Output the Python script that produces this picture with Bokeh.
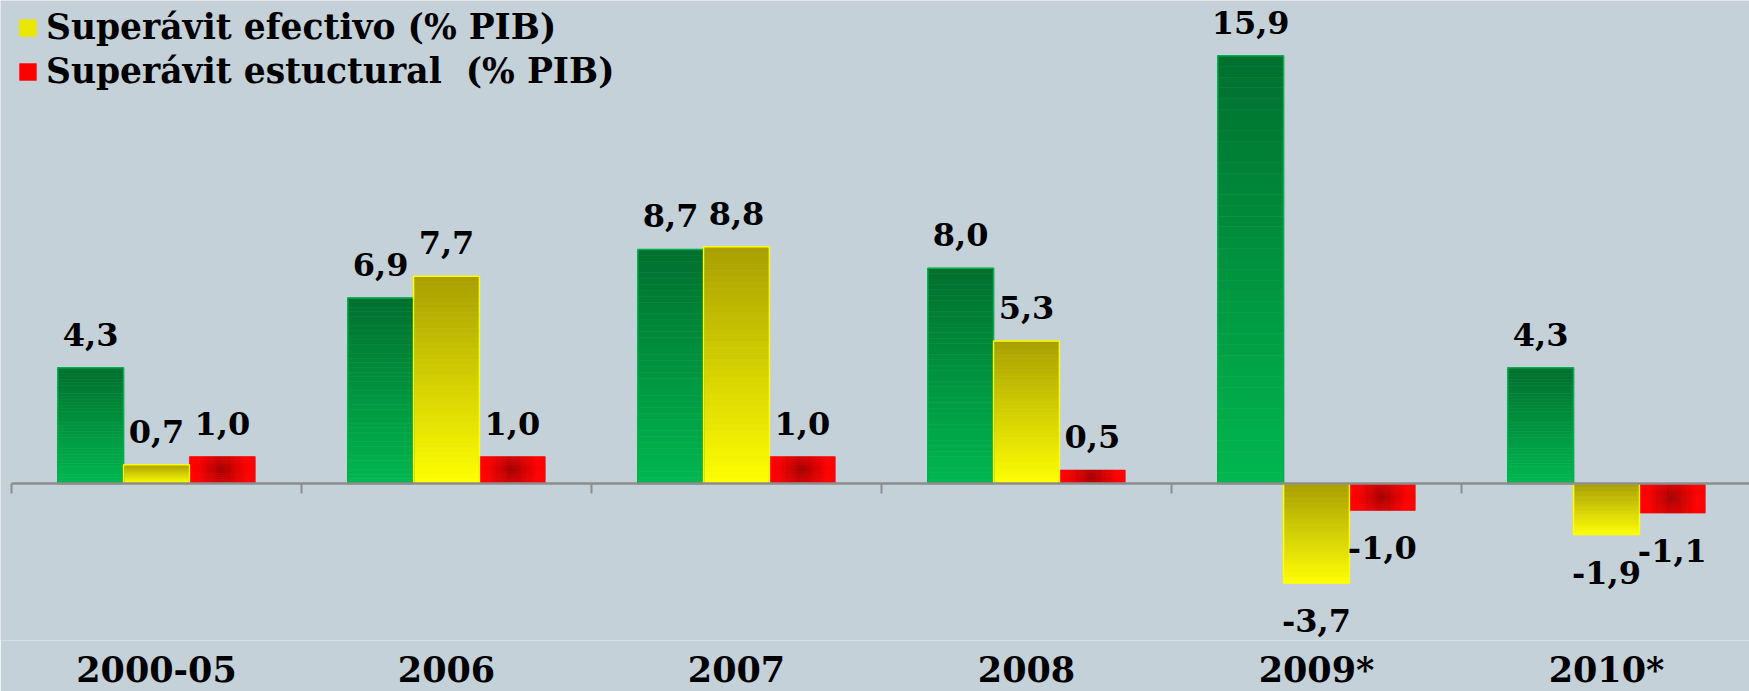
import math
from bokeh.plotting import figure
from bokeh.models import (ColumnDataSource, Range1d, LinearAxis, FixedTicker,
                          Legend, LegendItem, LabelSet)
from bokeh.core.properties import value
from bokeh.embed import file_html
from bokeh.resources import INLINE

# ---------------- data ----------------
categories = ["2000-05", "2006", "2007", "2008", "2009*", "2010*"]
green_vals = [4.3, 6.9, 8.7, 8.0, 15.9, 4.3]
yellow_vals = [0.7, 7.7, 8.8, 5.3, -3.7, -1.9]
red_vals = [1.0, 1.0, 1.0, 0.5, -1.0, -1.1]
legend_labels = ["Superávit efectivo (% PIB)", "Superávit estuctural  (% PIB)"]

# ---------------- layout / style ----------------
BG = "#C5D1D8"
LEFT_PAD_PX = 11
FRAME_W = 1749
FRAME_H = 640
CAT_PX = 290.0        # px per category
UNIT_PX = 26.9        # px per percentage point
ZERO_PX = 483.0       # zero line distance from frame top
BAR_W = 0.227
OFFS = [-0.227, 0.0, 0.227]
FONT = "DejaVu Serif"
LEGEND_H = 94         # approx. legend box height in px

GREEN_TOP, GREEN_BOT = "#006F2E", "#00B850"
YEL_TOP, YEL_BOT = "#A89F00", "#FFFF00"
RED_DARK, RED_EDGE = "#A00000", "#FF0000"


def hex2rgb(h):
    h = h.lstrip("#")
    return tuple(int(h[i:i + 2], 16) for i in (0, 2, 4))


def lerp(c0, c1, t):
    a, b = hex2rgb(c0), hex2rgb(c1)
    return "#%02x%02x%02x" % tuple(int(round(a[i] + (b[i] - a[i]) * t)) for i in range(3))


p = figure(frame_width=FRAME_W, frame_height=FRAME_H,
           x_range=Range1d(-LEFT_PAD_PX / CAT_PX, (FRAME_W - LEFT_PAD_PX) / CAT_PX),
           y_range=Range1d(-(FRAME_H - ZERO_PX) / UNIT_PX, ZERO_PX / UNIT_PX),
           x_axis_type=None, y_axis_type=None,
           output_backend="svg", toolbar_location=None,
           min_border_left=0, min_border_right=0, min_border_top=0,
           min_border_bottom=30)
p.background_fill_color = BG
p.border_fill_color = BG
p.outline_line_color = None


def linear_bars(vals, off, ctop, cbot, n=40):
    d = dict(left=[], right=[], top=[], bottom=[], c=[])
    for i, v in enumerate(vals):
        cx = i + 0.5 + off
        top, bot = max(v, 0.0), min(v, 0.0)
        step = (top - bot) / n
        for k in range(n):
            t = (k + 0.5) / n
            d["left"].append(cx - BAR_W / 2)
            d["right"].append(cx + BAR_W / 2)
            d["top"].append(top - k * step)
            d["bottom"].append(top - (k + 1) * step)
            d["c"].append(lerp(ctop, cbot, t))
    return ColumnDataSource(d)


def radial_bars(vals, off, nx=30):
    d = dict(left=[], right=[], top=[], bottom=[], c=[])
    for i, v in enumerate(vals):
        cx = i + 0.5 + off
        top, bot = max(v, 0.0), min(v, 0.0)
        cy = (top + bot) / 2
        h_px = (top - bot) * UNIT_PX
        ny = max(4, int(h_px / 2.0))
        dx = BAR_W / nx
        dy = (top - bot) / ny
        for a in range(nx):
            for b in range(ny):
                l = cx - BAR_W / 2 + a * dx
                tp = top - b * dy
                mx = (l + dx / 2 - cx) * CAT_PX
                my = (tp - dy / 2 - cy) * UNIT_PX
                r = math.hypot(mx, my)
                f = min(1.0, r / 26.0)
                d["left"].append(l)
                d["right"].append(l + dx)
                d["top"].append(tp)
                d["bottom"].append(tp - dy)
                d["c"].append(lerp(RED_DARK, RED_EDGE, f ** 0.8))
    return ColumnDataSource(d)


g_src = linear_bars(green_vals, OFFS[0], GREEN_TOP, GREEN_BOT)
y_src = linear_bars(yellow_vals, OFFS[1], YEL_TOP, YEL_BOT)
r_src = radial_bars(red_vals, OFFS[2])

g_r = p.quad(left="left", right="right", top="top", bottom="bottom", source=g_src,
             fill_color="c", line_color="c", line_width=0.6)
y_r = p.quad(left="left", right="right", top="top", bottom="bottom", source=y_src,
             fill_color="c", line_color="c", line_width=0.6)
r_r = p.quad(left="left", right="right", top="top", bottom="bottom", source=r_src,
             fill_color="c", line_color="c", line_width=0.6)

# outlines of green and yellow bars
for vals, off, col in [(green_vals, OFFS[0], "#00B050"), (yellow_vals, OFFS[1], "#FFFF00")]:
    src = ColumnDataSource(dict(
        left=[i + 0.5 + off - BAR_W / 2 for i in range(len(vals))],
        right=[i + 0.5 + off + BAR_W / 2 for i in range(len(vals))],
        top=[max(v, 0) for v in vals],
        bottom=[min(v, 0) for v in vals]))
    p.quad(left="left", right="right", top="top", bottom="bottom", source=src,
           fill_color=None, line_color=col, line_width=1.5)

# zero line (starting at the first separator) and category separators
sep_x = list(range(len(categories) + 1))
p.segment(x0=[0], x1=[len(categories) + 1], y0=[0], y1=[0],
          line_color="#8C8C8C", line_width=2.5)
p.segment(x0=sep_x, x1=sep_x, y0=[0] * len(sep_x), y1=[-10 / UNIT_PX] * len(sep_x),
          line_color="#8C8C8C", line_width=2)

# value labels
pos = dict(x=[], y=[], t=[])
neg = dict(x=[], y=[], t=[])
for vals, off in zip([green_vals, yellow_vals, red_vals], OFFS):
    for i, v in enumerate(vals):
        lab = ("%.1f" % v).replace(".", ",")
        d = pos if v >= 0 else neg
        d["x"].append(i + 0.5 + off)
        d["y"].append(v)
        d["t"].append(lab)
p.add_layout(LabelSet(x="x", y="y", text="t", source=ColumnDataSource(pos),
                      text_align="center", text_baseline="alphabetic", y_offset=22,
                      text_font=value(FONT), text_font_style="bold",
                      text_font_size="32px", text_color="#000000"))
p.add_layout(LabelSet(x="x", y="y", text="t", source=ColumnDataSource(neg),
                      text_align="center", text_baseline="top", y_offset=-26,
                      text_font=value(FONT), text_font_style="bold",
                      text_font_size="32px", text_color="#000000"))

# category axis
centers = [i + 0.5 for i in range(len(categories))]
xaxis = LinearAxis(ticker=FixedTicker(ticks=centers),
                   major_label_overrides={c: n for c, n in zip(centers, categories)},
                   axis_line_color=None, major_tick_line_color=None,
                   minor_tick_line_color=None, major_label_standoff=2,
                   major_label_text_font=FONT, major_label_text_font_style="bold",
                   major_label_text_font_size="35px", major_label_text_color="#000000")
p.add_layout(xaxis, "below")

# legend (bottom-left anchor; placed so its top sits at the frame top)
legend = Legend(items=[LegendItem(label=legend_labels[0], renderers=[y_r], index=30),
                       LegendItem(label=legend_labels[1], renderers=[r_r], index=50)],
                location=(LEFT_PAD_PX + 3, FRAME_H - LEGEND_H), margin=0, padding=3,
                spacing=4, glyph_width=21, glyph_height=21, label_standoff=8,
                label_text_font=FONT, label_text_font_style="bold",
                label_text_font_size="34.5px", label_text_color="#000000",
                background_fill_alpha=0, border_line_alpha=0)
p.add_layout(legend)

open("out.html", "w").write(file_html(p, INLINE))
